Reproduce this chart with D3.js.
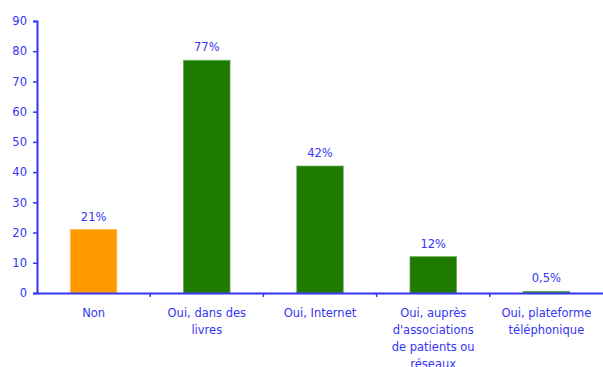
<!DOCTYPE html>
<html>
<head>
<meta charset="utf-8">
<script src="https://cdn.jsdelivr.net/npm/d3@7"></script>
<style>
  html, body { margin: 0; padding: 0; background: #fff; }
  text { font-family: "DejaVu Sans", sans-serif; }
</style>
</head>
<body>
<svg id="chart" width="603" height="367"></svg>
<script>
// Survey answers: source of information
const categories = ["Non", "Oui, dans des livres", "Oui, Internet", "Oui, auprès d'associations de patients ou réseaux", "Oui, plateforme téléphonique"];
const categoryLines = [
  ["Non"],
  ["Oui, dans des", "livres"],
  ["Oui, Internet"],
  ["Oui, auprès", "d'associations", "de patients ou", "réseaux"],
  ["Oui, plateforme", "téléphonique"]
];
const values = [21, 77, 42, 12, 0.5];
const valueLabels = ["21%", "77%", "42%", "12%", "0,5%"];
const barColors = ["#ff9900", "#1e7b00", "#1e7b00", "#1e7b00", "#1e7b00"];
const yTicks = [0, 10, 20, 30, 40, 50, 60, 70, 80, 90];

const blue = "#3535f5";
const svg = d3.select("#chart");
const plotLeft = 37, plotRight = 603, plotTop = 21, plotBottom = 293;

const x = d3.scaleBand().domain(categories).range([plotLeft, plotRight]).paddingInner(0).paddingOuter(0);
const y = d3.scaleLinear().domain([0, 90]).range([plotBottom, plotTop]);
const barW = x.bandwidth() * 0.41;

// Y axis
const yAxis = svg.append("g")
  .attr("transform", `translate(${plotLeft},0)`)
  .call(d3.axisLeft(y).tickValues(yTicks).tickSize(4).tickPadding(6).tickFormat(d3.format("d")));
yAxis.select(".domain").attr("stroke", blue).attr("stroke-width", 2);
yAxis.selectAll(".tick line").attr("stroke", blue).attr("stroke-width", 1.5);
yAxis.selectAll(".tick text").attr("fill", blue).style("font-size", "11.5px").style("font-family", "DejaVu Sans, sans-serif");

// Bars
svg.selectAll("rect.bar").data(values).join("rect")
  .attr("class", "bar")
  .attr("x", (d, i) => x(categories[i]) + x.bandwidth() / 2 - barW / 2)
  .attr("width", barW)
  .attr("y", d => y(d))
  .attr("height", d => plotBottom - y(d))
  .attr("fill", (d, i) => barColors[i])
  .attr("stroke", (d, i) => i === 0 ? "#ffb84d" : "#5fa64a")
  .attr("stroke-width", 0.8);

// X axis
const xAxis = svg.append("g")
  .attr("transform", `translate(0,${plotBottom})`)
  .call(d3.axisBottom(x).tickSize(0).tickFormat(""));
xAxis.select(".domain").attr("stroke", blue).attr("stroke-width", 2);
xAxis.selectAll(".tick").remove();
// Separators between categories
svg.selectAll("line.sep").data(categories.slice(1)).join("line")
  .attr("class", "sep")
  .attr("x1", d => x(d)).attr("x2", d => x(d))
  .attr("y1", plotBottom).attr("y2", plotBottom + 4)
  .attr("stroke", blue).attr("stroke-width", 1.5);

// Category labels
const labels = svg.selectAll("text.cat").data(categoryLines).join("text")
  .attr("class", "cat")
  .attr("text-anchor", "middle")
  .attr("fill", blue)
  .style("font-size", "11.5px");
labels.each(function(lines, i) {
  const cx = x(categories[i]) + x.bandwidth() / 2;
  d3.select(this).selectAll("tspan").data(lines).join("tspan")
    .attr("x", cx)
    .attr("y", (d, j) => 317 + j * 17)
    .text(d => d);
});

// Value labels
svg.selectAll("text.val").data(values).join("text")
  .attr("class", "val")
  .attr("text-anchor", "middle")
  .attr("fill", blue)
  .style("font-size", "11.5px")
  .attr("x", (d, i) => x(categories[i]) + x.bandwidth() / 2)
  .attr("y", d => y(d) - 9)
  .text((d, i) => valueLabels[i]);
</script>
</body>
</html>
